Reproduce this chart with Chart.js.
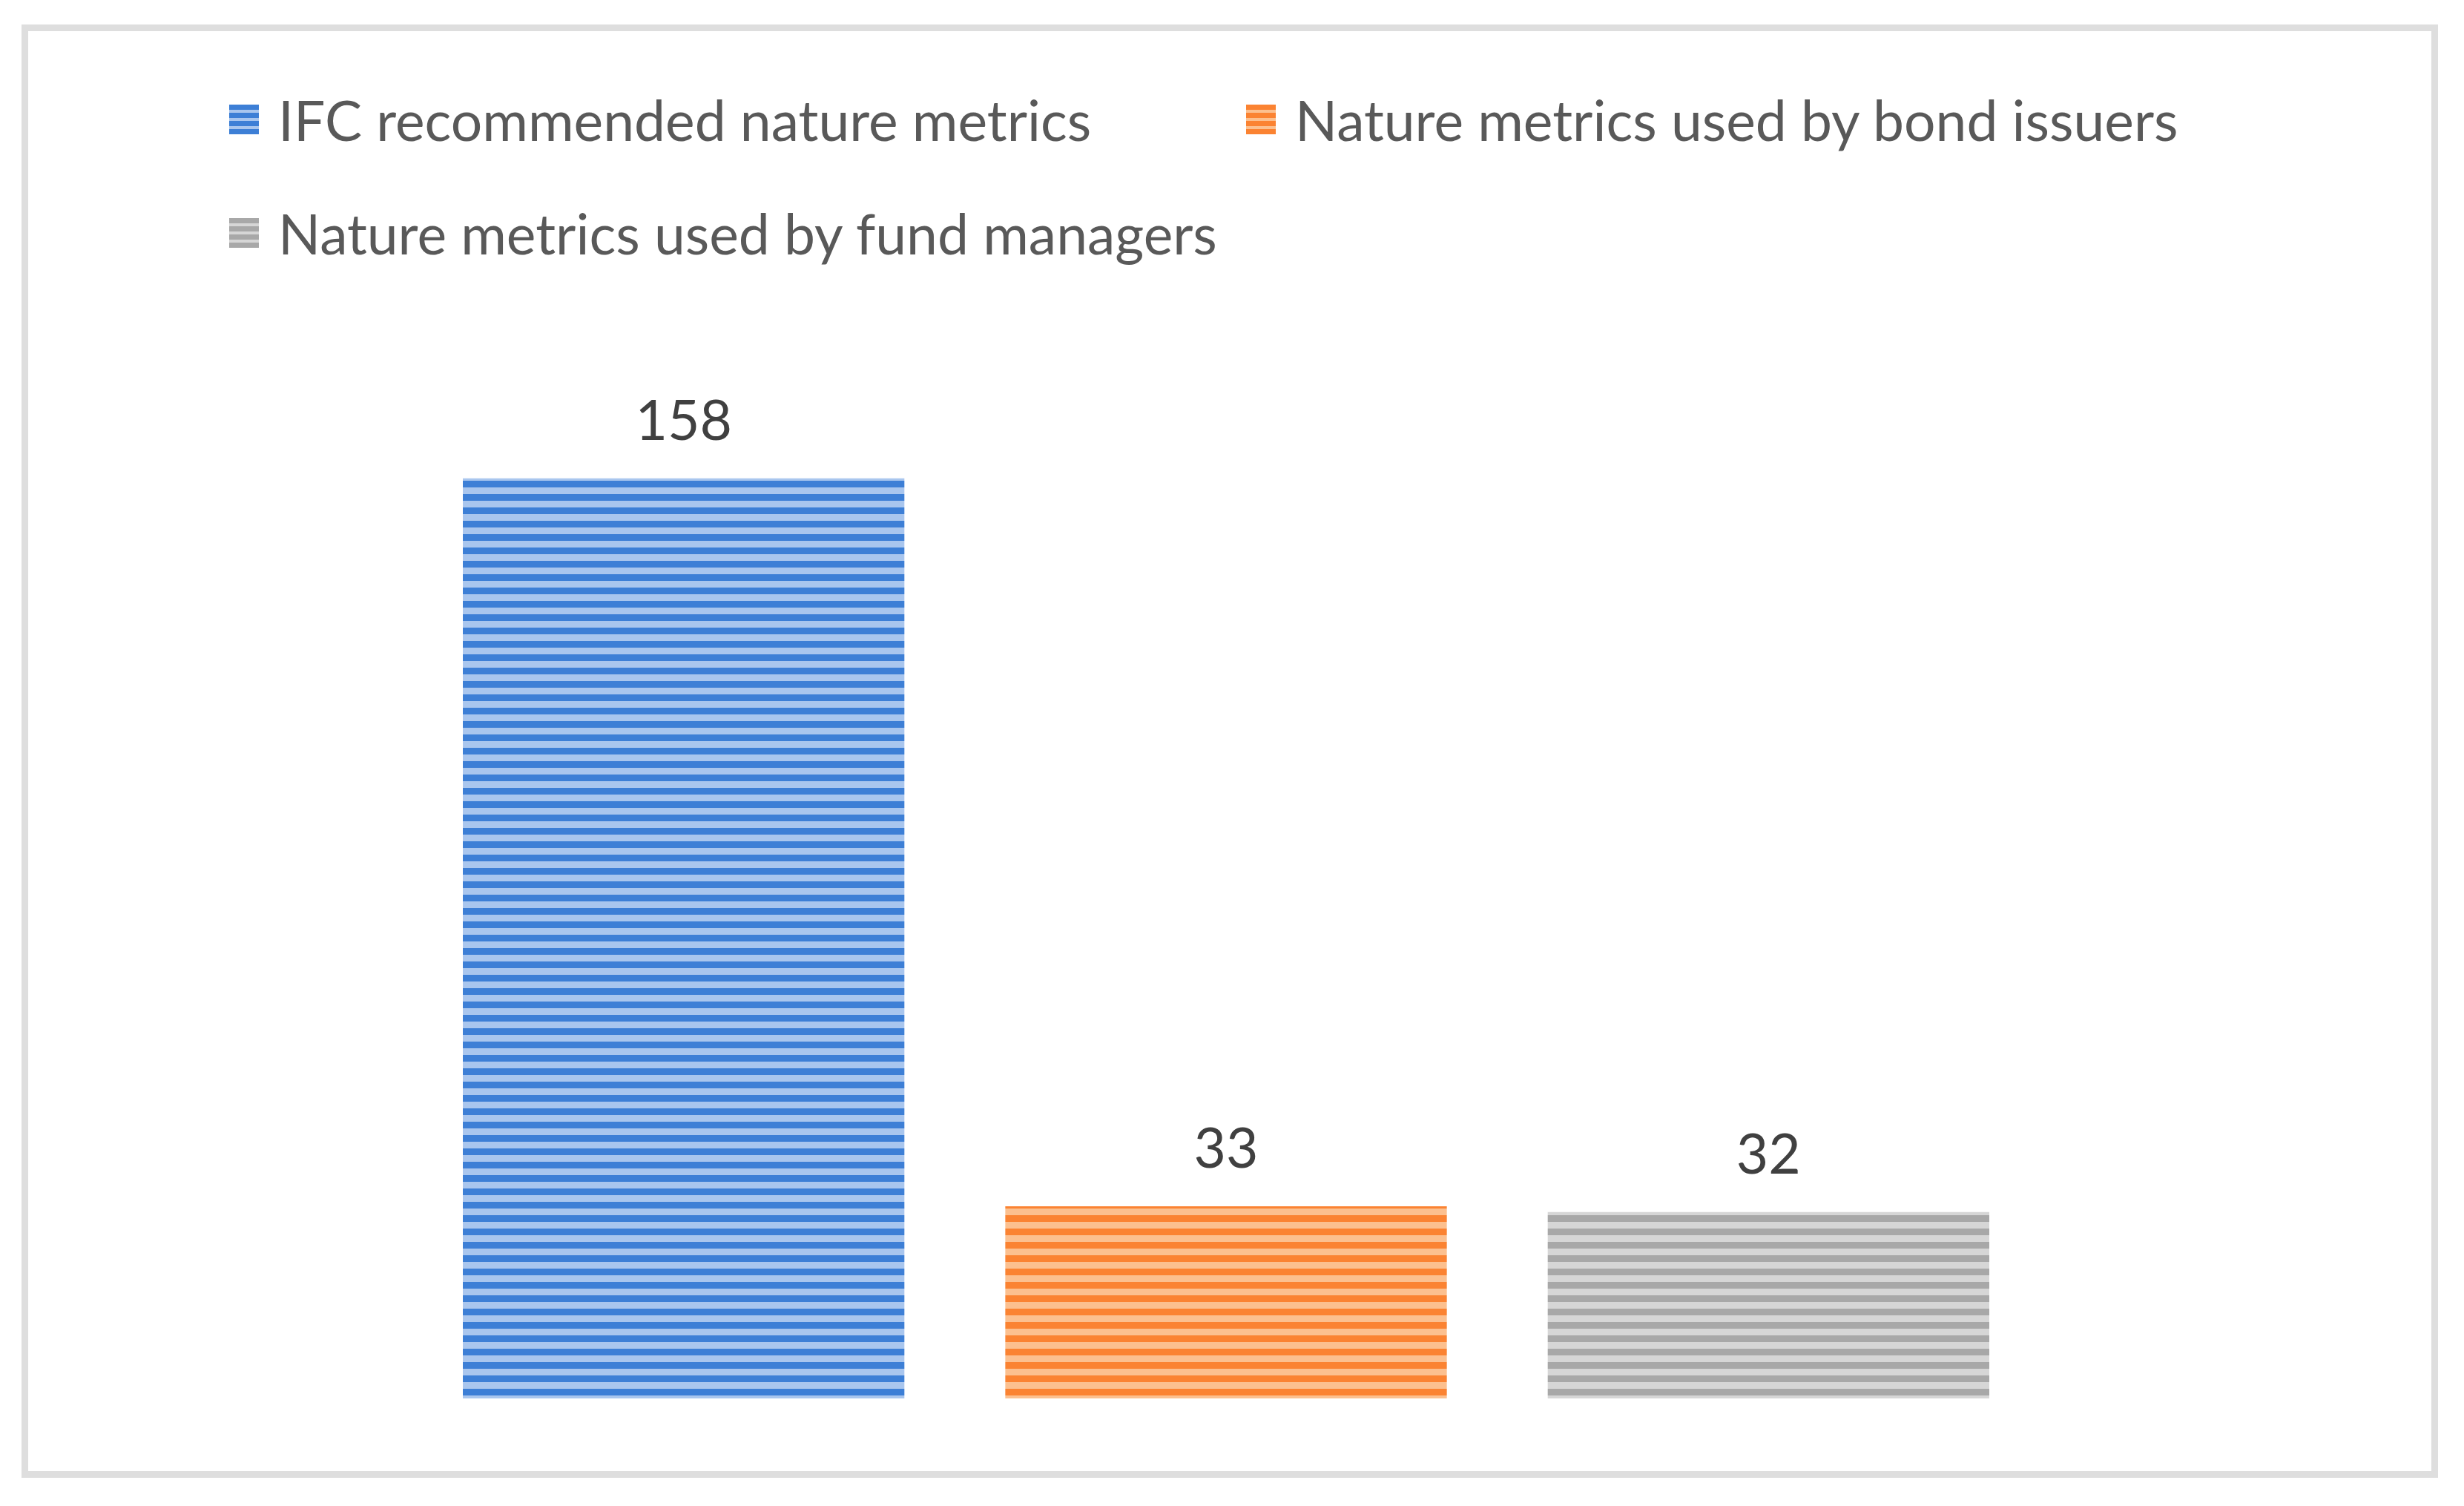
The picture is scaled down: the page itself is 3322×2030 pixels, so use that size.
<!DOCTYPE html>
<html>
<head>
<meta charset="utf-8">
<script src="https://cdn.jsdelivr.net/npm/chart.js@4.4.1/dist/chart.umd.min.js"></script>
<style>
    html, body { margin: 0; padding: 0; background: #ffffff; }
    body { width: 3322px; height: 2030px; position: relative; overflow: hidden; }
    #frame {
        position: absolute; left: 29px; top: 33px; width: 3258px; height: 1959px;
        box-sizing: border-box; border: 9px solid #dedede;
    }
    #chartCanvas { position: absolute; left: 0; top: 0; }
    #legend {
        position: absolute; left: 309px; top: 121px;
        display: grid; grid-template-columns: 1371px auto; row-gap: 73px;
    }
    .legend-item { display: flex; align-items: center; height: 80px; }
    .legend-swatch { width: 40px; height: 40px; margin-right: 26px; flex: none; }
    .legend-text { font: 75px Lato, 'Open Sans', sans-serif; color: #595959; white-space: nowrap; line-height: 80px; }
</style>
</head>
<body>
<div id="frame"></div>
<canvas id="chartCanvas" width="3322" height="2030"></canvas>
<div id="legend"></div>
<script>
// --- CHART DATA ---
const categories = [''];
const seriesNames = [
    'IFC recommended nature metrics',
    'Nature metrics used by bond issuers',
    'Nature metrics used by fund managers'
];
const seriesValues = [158, 33, 32];
const axisMax = 180;

// stripe colours per series (dark line / light line)
const stripeDark = ['#3d7fd6', '#fb8332', '#a8a8a8'];
const stripeLight = ['#a9c6ee', '#fcc08f', '#d6d6d6'];

// horizontal striped fill, like the Excel pattern fill
function stripePattern(dark, light) {
    const tile = document.createElement('canvas');
    tile.width = 4;
    tile.height = 18;
    const tctx = tile.getContext('2d');
    tctx.fillStyle = light;
    tctx.fillRect(0, 0, 4, 18);
    tctx.fillStyle = dark;
    tctx.fillRect(0, 0, 4, 9);
    return tctx.createPattern(tile, 'repeat');
}

// numbers above each bar
const valueLabels = {
    id: 'valueLabels',
    afterDatasetsDraw(chart) {
        const ctx = chart.ctx;
        ctx.save();
        ctx.font = '75px Lato, "Open Sans", sans-serif';
        ctx.fillStyle = '#404040';
        ctx.textAlign = 'center';
        ctx.textBaseline = 'alphabetic';
        chart.data.datasets.forEach((ds, i) => {
            chart.getDatasetMeta(i).data.forEach((bar, j) => {
                ctx.fillText(ds.data[j], bar.x, bar.y - 52);
            });
        });
        ctx.restore();
    }
};

// legend laid out as html (two items on first row, one on second)
const htmlLegend = {
    id: 'htmlLegend',
    afterUpdate(chart) {
        const box = document.getElementById('legend');
        box.innerHTML = '';
        chart.data.datasets.forEach((ds, i) => {
            const item = document.createElement('div');
            item.className = 'legend-item';
            const sw = document.createElement('span');
            sw.className = 'legend-swatch';
            sw.style.background = `repeating-linear-gradient(to bottom, ${stripeDark[i]} 0 7px, ${stripeLight[i]} 7px 11px)`;
            const txt = document.createElement('span');
            txt.className = 'legend-text';
            txt.textContent = ds.label;
            item.appendChild(sw);
            item.appendChild(txt);
            box.appendChild(item);
        });
    }
};

const barChart = new Chart(document.getElementById('chartCanvas').getContext('2d'), {
    type: 'bar',
    data: {
        labels: categories,
        datasets: seriesNames.map((name, i) => ({
            label: name,
            data: [seriesValues[i]],
            backgroundColor: stripePattern(stripeDark[i], stripeLight[i]),
            borderWidth: 0
        }))
    },
    options: {
        responsive: false,
        devicePixelRatio: 1,
        animation: false,
        layout: { padding: { left: 556, right: 572, top: 472, bottom: 145 } },
        datasets: { bar: { categoryPercentage: 1, barPercentage: 0.814 } },
        scales: {
            x: { display: false, grid: { display: false } },
            y: { display: false, min: 0, max: axisMax, grid: { display: false } }
        },
        plugins: {
            legend: { display: false },
            tooltip: { enabled: false }
        }
    },
    plugins: [valueLabels, htmlLegend]
});
</script>
</body>
</html>
